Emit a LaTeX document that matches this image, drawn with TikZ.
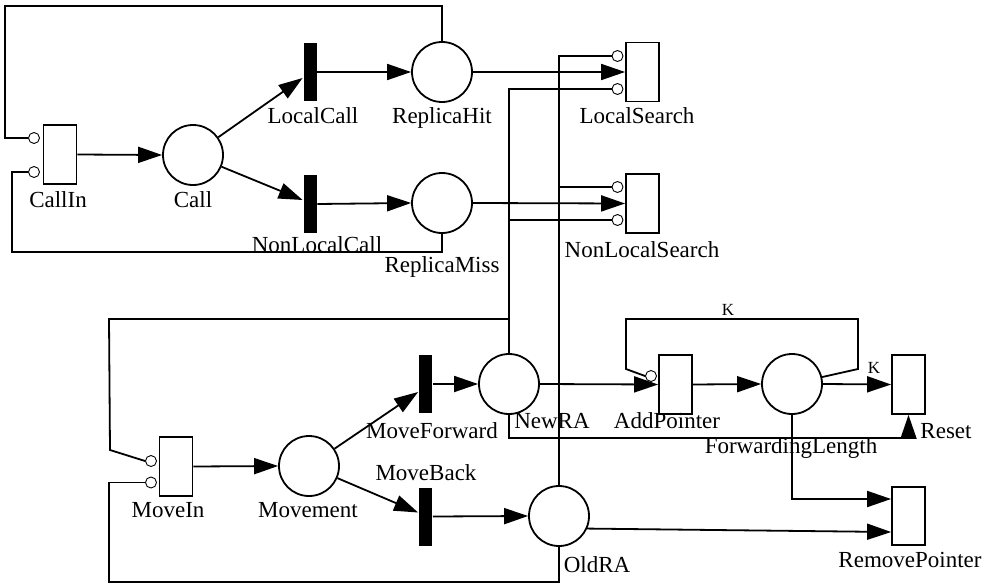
\documentclass[tikz,border=0pt]{standalone}
\usepackage{fontspec}
\setmainfont{Liberation Serif}
\usetikzlibrary{arrows.meta,calc}
\begin{document}
\begin{tikzpicture}[x=1pt,y=-1pt,
  place/.style={draw,line width=1.8pt,circle,minimum size=60pt,inner sep=0pt},
  trans/.style={draw,line width=1.8pt,rectangle,minimum width=33pt,minimum height=59pt,inner sep=0pt},
  bar/.style={fill=black,draw=none,rectangle,minimum width=13pt,minimum height=58pt,inner sep=0pt},
  inh/.style={draw,line width=0.9pt,circle,minimum size=11pt,inner sep=0pt},
  lbl/.style={anchor=base,inner sep=0pt,font=\fontsize{23}{25}\selectfont},
  klbl/.style={anchor=base,inner sep=0pt,font=\fontsize{17}{19}\selectfont},
  arr/.style={-{Triangle[length=24pt,width=16pt]}},
  every path/.style={line width=1.8pt}]
\useasboundingbox (0,0) rectangle (987,586);
% nodes
\node[trans] (CallIn) at (60,154.5) {};
\node[place] (Call) at (193,155) {};
\node[bar] (LocalCall) at (310,72) {};
\node[bar] (NonLocalCall) at (310,204) {};
\node[place] (ReplicaHit) at (442,72) {};
\node[place] (ReplicaMiss) at (442,203) {};
\node[trans] (LocalSearch) at (642.5,72) {};
\node[trans] (NonLocalSearch) at (642.5,203.5) {};
\node[trans] (MoveIn) at (176,466.5) {};
\node[place] (Movement) at (309,466) {};
\node[bar] (MoveForward) at (425.5,384) {};
\node[bar] (MoveBack) at (425.5,516.5) {};
\node[place] (NewRA) at (509,384) {};
\node[place] (OldRA) at (559,516) {};
\node[trans] (AddPointer) at (675.5,384.5) {};
\node[place] (FL) at (792,384) {};
\node[trans] (Reset) at (908.5,384.5) {};
\node[trans,minimum height=58pt] (RemovePointer) at (908.5,516) {};
% inhibitor circles
\node[inh] (ci1) at (34,138) {};
\node[inh] (ci2) at (34,172) {};
\node[inh] (ls1) at (617.5,56) {};
\node[inh] (ls2) at (617.5,89) {};
\node[inh] (ns1) at (617.5,187) {};
\node[inh] (ns2) at (617.5,220) {};
\node[inh] (mi1) at (151,461) {};
\node[inh] (mi2) at (151,482.5) {};
\node[inh] (ap1) at (651,376) {};
% labels
\node[lbl] (tCallIn) at (58,207) {CallIn};
\node[lbl] (tCall) at (193,207) {Call};
\node[lbl] (tLocalCall) at (313,123) {LocalCall};
\node[lbl] (tReplicaHit) at (442,123) {ReplicaHit};
\node[lbl] (tNonLocalCall) at (317,252) {NonLocalCall};
\node[lbl] (tReplicaMiss) at (442,272) {ReplicaMiss};
\node[lbl] (tLocalSearch) at (637,123) {LocalSearch};
\node[lbl] (tNonLocalSearch) at (642,257) {NonLocalSearch};
\node[lbl] (tMoveIn) at (168,517) {MoveIn};
\node[lbl] (tMovement) at (308,517) {Movement};
\node[lbl] (tMoveForward) at (432,438) {MoveForward};
\node[lbl] (tMoveBack) at (426,480) {MoveBack};
\node[lbl] (tNewRA) at (552,428) {NewRA};
\node[lbl] (tAddPointer) at (667,428) {AddPointer};
\node[lbl] (tFL) at (791,453) {ForwardingLength};
\node[lbl] (tReset) at (946,438) {Reset};
\node[lbl] (tRemovePointer) at (910,567) {RemovePointer};
\node[lbl] (tOldRA) at (597,572) {OldRA};
\node[klbl] (tK1) at (728,315) {K};
\node[klbl] (tK2) at (874,373) {K};
% coordinates
\coordinate (ml) at (109,319);
% arcs
\draw[arr] (CallIn.east) -- (Call.west);
\draw[arr] (Call) -- ($(LocalCall.west)+(0,6)$);
\draw[arr] (Call) -- ($(NonLocalCall.west)+(0,-4)$);
\draw[arr] (LocalCall.east) -- (ReplicaHit.west);
\draw[arr] (NonLocalCall.east) -- (ReplicaMiss.west);
\draw[arr] (ReplicaHit.east) -- (LocalSearch.west);
\draw[arr] (ReplicaMiss.east) -- (NonLocalSearch.west);
\draw (ci1.west) -- (5,138) -- (5,6) -| (ReplicaHit.north);
\draw (ci2.west) -- (12,172) -- (12,252) -| (ReplicaMiss.south);
\draw (ls1.west) -| (OldRA.north);
\draw (ns1.west) -- (ns1.west -| OldRA.north);
\draw (ls2.west) -| (NewRA.north);
\draw (ns2.west) -- (ns2.west -| NewRA.north);
\draw[arr] (MoveIn.east) -- (Movement.west);
\draw[arr] (Movement) -- ($(MoveForward.west)+(0,8)$);
\draw[arr] (Movement) -- ($(MoveBack.west)+(0,-4)$);
\draw[arr] (MoveForward.east) -- (NewRA.west);
\draw[arr] (MoveBack.east) -- (OldRA.west);
\draw (mi1.west) -- (110,450) -- (ml) -- (ml -| NewRA.north);
\draw (mi2.west) -- (109,482.5) -- (109,582) -| (OldRA.south);
\draw[arr] (NewRA.east) -- (AddPointer.west);
\draw[arr] (AddPointer.east) -- (FL.west);
\draw[arr] (FL.east) -- (Reset.west);
\draw (FL.13) -- (858,369) -- (858,319) -- (626,319) -- (626,369) -- (ap1.west);
\draw[arr] (NewRA.south) -- (509,438) -| (Reset.south);
\draw[arr] (FL.south) |- ($(RemovePointer.west)+(0,-17)$);
\draw[arr] (OldRA.-24) -- ($(RemovePointer.west)+(0,16)$);
\end{tikzpicture}
\end{document}
